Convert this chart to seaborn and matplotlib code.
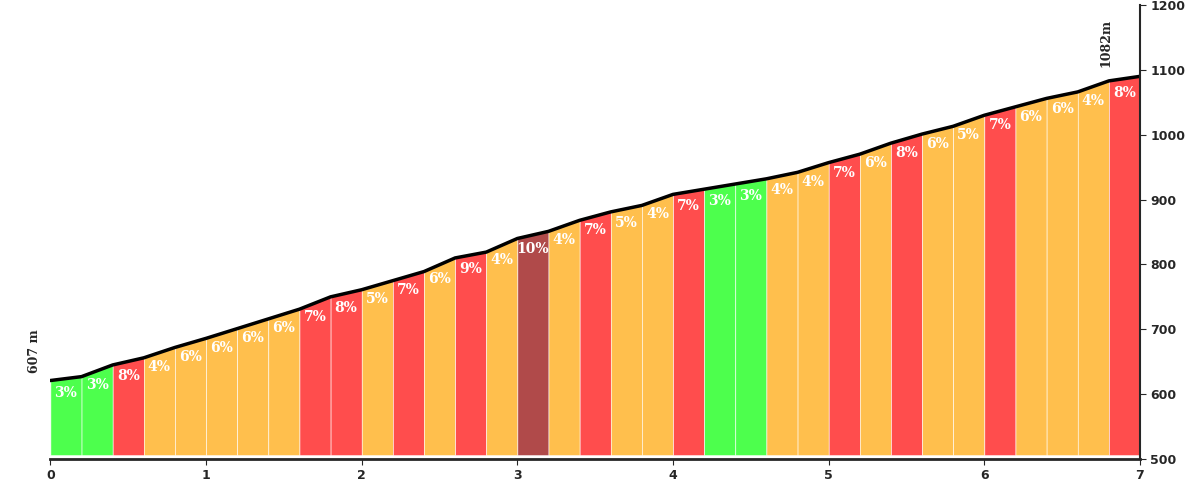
import matplotlib
matplotlib.use("Agg")
import matplotlib.pyplot as plt
import seaborn as sns

# distances (km) of each 200 m point and elevation
km = [0.0, 0.2, 0.4, 0.6, 0.8, 1.0, 1.2, 1.4, 1.6, 1.8, 2.0, 2.2, 2.4, 2.6, 2.8, 3.0,
      3.2, 3.4, 3.6, 3.8, 4.0, 4.2, 4.4, 4.6, 4.8, 5.0, 5.2, 5.4, 5.6, 5.8, 6.0, 6.2,
      6.4, 6.6, 6.8, 7.0]
elev = [621, 627, 645, 656, 672, 686, 701, 716, 731, 750, 761, 775, 789, 810, 819, 840,
        851, 868, 881, 891, 908, 916, 924, 932, 942, 957, 970, 987, 1001, 1013, 1030, 1043,
        1056, 1066, 1083, 1090]
grade = [3, 3, 8, 4, 6, 6, 6, 6, 7, 8, 5, 7, 6, 9, 4, 10, 4, 7, 5, 4, 7, 3, 3, 4, 4,
         7, 6, 8, 6, 5, 7, 6, 6, 4, 8]
start_label = "607 m"
end_label = "1082m"


def grade_color(g):
    if g <= 3:
        return "#4dff4d"
    if g <= 6:
        return "#ffbf4d"
    if g <= 9:
        return "#ff4d4d"
    return "#b04a4a"


sns.set_style("white")
fig, ax = plt.subplots(figsize=(12, 5), dpi=100)
fig.subplots_adjust(left=0.042, right=0.95, bottom=0.082, top=0.99)

for i, g in enumerate(grade):
    x0, x1 = km[i], km[i + 1]
    ax.fill_between([x0, x1], [elev[i], elev[i + 1]], 506, color=grade_color(g),
                    linewidth=0.4, edgecolor="white")
    ax.text((x0 + x1) / 2, (elev[i] + elev[i + 1]) / 2 - 22, f"{g}%", ha="center",
            va="center", color="white", fontsize=10, fontweight="bold", family="DejaVu Serif")

sns.lineplot(x=km, y=elev, ax=ax, color="black", linewidth=2.5)

ax.text(-0.1, elev[0] + 12, start_label, rotation=90, ha="center", va="bottom",
        fontsize=9, fontweight="bold", family="DejaVu Serif")
ax.text(6.78, elev[-1] + 15, end_label, rotation=90, ha="center", va="bottom",
        fontsize=9, fontweight="bold", family="DejaVu Serif")

ax.set_xlim(0, 7)
ax.set_ylim(500, 1200)
ax.set_xticks(range(8))
ax.set_yticks(range(500, 1201, 100))
ax.yaxis.tick_right()
for s in ["top", "left"]:
    ax.spines[s].set_visible(False)
ax.spines["bottom"].set_linewidth(2)
ax.spines["right"].set_linewidth(1.5)
ax.tick_params(axis="both", length=4, labelsize=9, direction="out", bottom=True, right=True)
for lbl in ax.get_xticklabels() + ax.get_yticklabels():
    lbl.set_fontweight("bold")

fig.savefig("out.png")
